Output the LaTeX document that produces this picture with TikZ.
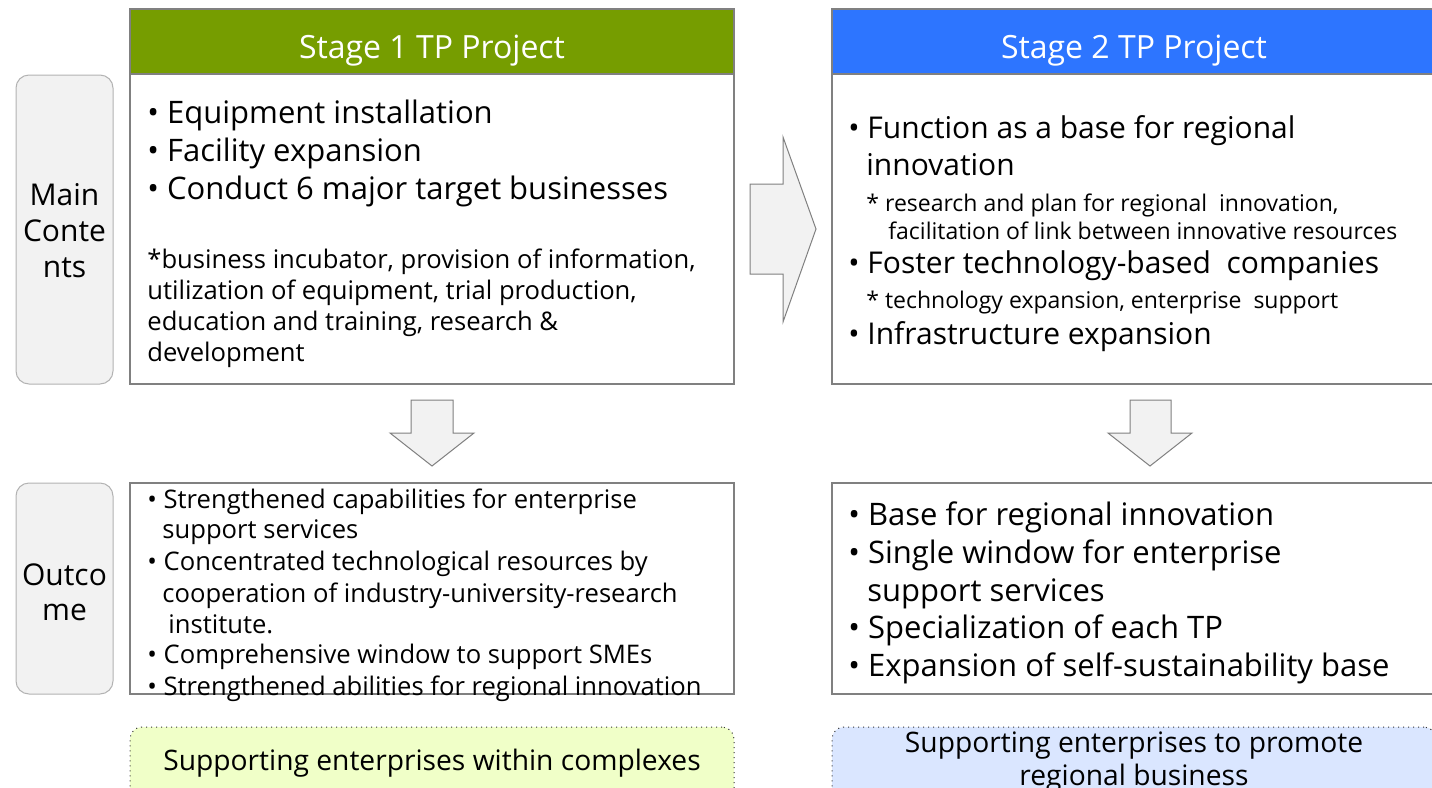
\documentclass[tikz,border=0pt]{standalone}
\usepackage{fontspec}
\setmainfont{Open Sans}
\definecolor{hdrgreen}{RGB}{118,157,0}
\definecolor{hdrblue}{RGB}{45,117,255}
\definecolor{lblgray}{RGB}{242,242,242}
\definecolor{boxline}{RGB}{128,128,128}
\definecolor{yelfill}{RGB}{240,255,200}
\definecolor{bluefill}{RGB}{218,230,255}
\tikzset{
  x=0.5pt, y=-0.5pt,
  frame/.style={draw=boxline, line width=0.75pt, fill=white, inner sep=0pt},
  header/.style={draw=boxline, line width=0.75pt, inner sep=0pt},
  lbl/.style={draw=boxline!60, fill=lblgray, rounded corners=6.5pt, line width=0.5pt, inner sep=0pt},
  goal/.style={draw=black!80, dotted, line width=0.5pt, rounded corners=6pt, inner sep=0pt},
  blockarrow/.style={draw=boxline, fill=lblgray, line width=0.5pt},
  txt/.style={anchor=base west, inner sep=0pt, text=black},
  ctxt/.style={anchor=base, inner sep=0pt, text=black},
  big/.style={font=\fontsize{15.5}{18}\selectfont},
  bigb/.style={font=\fontsize{15}{18}\selectfont},
  mid/.style={font=\fontsize{12.8}{15}\selectfont},
  small/.style={font=\fontsize{11.5}{13}\selectfont},
}
\begin{document}
\begin{tikzpicture}
\clip (0,0) rectangle (1432,788);
\fill[white] (0,0) rectangle (1432,788);

% left labels
\node[lbl, minimum width=48.5pt, minimum height=154.5pt] (mainlbl) at (64.5,229.5) {};
\node[ctxt, font=\fontsize{15}{18}\selectfont] (ml1) at (64.5,205) {Main};
\node[ctxt, font=\fontsize{15}{18}\selectfont] (ml2) at (64.5,241) {Conte};
\node[ctxt, font=\fontsize{15}{18}\selectfont] (ml3) at (64.5,277) {nts};
\node[lbl, minimum width=48.5pt, minimum height=105.5pt] (outlbl) at (64.5,588.5) {};
\node[ctxt, font=\fontsize{15}{18}\selectfont] (ol1) at (64.5,585) {Outco};
\node[ctxt, font=\fontsize{15}{18}\selectfont] (ol2) at (64.5,620) {me};

% stage boxes
\node[frame, minimum width=302pt, minimum height=187.5pt] (s1) at (432,196.5) {};
\node[header, fill=hdrgreen, minimum width=302pt, minimum height=32.5pt] (h1) at (432,41.5) {};
\node[ctxt, text=white, font=\fontsize{16}{19}\selectfont] (h1t) at (432,58) {Stage 1 TP Project};

\node[frame, minimum width=302pt, minimum height=187.5pt] (s2) at (1134,196.5) {};
\node[header, fill=hdrblue, minimum width=302pt, minimum height=32.5pt] (h2) at (1134,41.5) {};
\node[ctxt, text=white, font=\fontsize{16}{19}\selectfont] (h2t) at (1134,58) {Stage 2 TP Project};

% stage 1 text
\node[txt, big] (a1) at (147,123) {• Equipment installation};
\node[txt, big] (a2) at (147,161) {• Facility expansion};
\node[txt, big] (a3) at (147,199) {• Conduct 6 major target businesses};
\node[txt, mid] (a4) at (147,268) {*business incubator, provision of information,};
\node[txt, mid] (a5) at (147,299) {utilization of equipment, trial production,};
\node[txt, mid] (a6) at (147,330) {education and training, research \&};
\node[txt, mid] (a7) at (147,361) {development};

% stage 2 text
\node[txt, bigb] (b1) at (848,138) {• Function as a base for regional};
\node[txt, bigb] (b2) at (866,175) {innovation};
\node[txt, small] (b3) at (866,211) {*\ research and plan for regional\ \ innovation,};
\node[txt, small] (b4) at (888,239) {facilitation of link between innovative resources};
\node[txt, bigb] (b5) at (848,273) {• Foster technology-based\ \ companies};
\node[txt, small] (b6) at (866,308) {*\ technology expansion, enterprise\ \ support};
\node[txt, bigb] (b7) at (848,344) {• Infrastructure expansion};

% arrows
\draw[blockarrow] (750,184) -- (783,184) -- (783,137) -- (816,229) -- (783,322) -- (783,274) -- (750,274) -- cycle;
\draw[blockarrow] (411,400) -- (453,400) -- (453,433) -- (474,433) -- (432,466) -- (390,433) -- (411,433) -- cycle;
\draw[blockarrow] (1130,400) -- (1171,400) -- (1171,433) -- (1192,433) -- (1150,466) -- (1108,433) -- (1130,433) -- cycle;

% outcome boxes
\node[frame, minimum width=302pt, minimum height=105.5pt] (o1) at (432,588.5) {};
\node[frame, minimum width=302pt, minimum height=105.5pt] (o2) at (1134,588.5) {};

\node[txt, mid] (c1) at (147,508) {• Strengthened capabilities for enterprise};
\node[txt, mid] (c2) at (162,538) {support services};
\node[txt, mid] (c3) at (147,570) {• Concentrated technological resources by};
\node[txt, mid] (c4) at (162,602) {cooperation of industry-university-research};
\node[txt, mid] (c5) at (168,633) {institute.};
\node[txt, mid] (c6) at (147,663) {• Comprehensive window to support SMEs};
\node[txt, mid] (c7) at (147,695) {• Strengthened abilities for regional innovation};

\node[txt, big] (d1) at (848,525) {• Base for regional innovation};
\node[txt, big] (d2) at (848,563) {• Single window for enterprise};
\node[txt, big] (d3) at (867,601) {support services};
\node[txt, big] (d4) at (848,638) {• Specialization of each TP};
\node[txt, big] (d5) at (848,676) {• Expansion of self-sustainability base};

% goal boxes
\node[goal, fill=yelfill, minimum width=302pt, minimum height=39pt] (g1) at (432,766) {};
\node[ctxt, font=\fontsize{14.1}{17}\selectfont] (g1t) at (432,770) {Supporting enterprises within complexes};
\node[goal, fill=bluefill, minimum width=302pt, minimum height=39pt] (g2) at (1134,766) {};
\node[ctxt, font=\fontsize{14.1}{17}\selectfont] (g2t) at (1134,752) {Supporting enterprises to promote};
\node[ctxt, font=\fontsize{14.1}{17}\selectfont] (g2u) at (1134,785) {regional business};
\end{tikzpicture}
\end{document}
